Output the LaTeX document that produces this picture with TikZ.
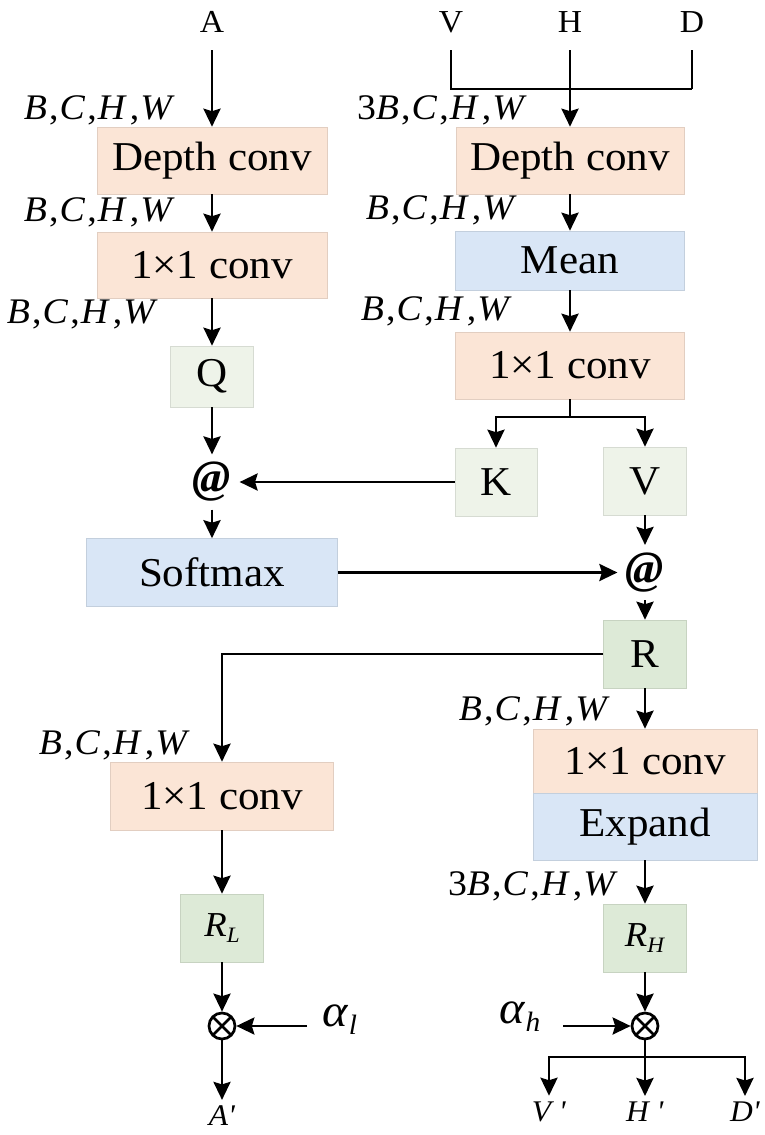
\documentclass[tikz,border=0pt]{standalone}
\usepackage{fontspec}
\setmainfont{Liberation Serif}
\usepackage{graphicx}
\usetikzlibrary{arrows.meta}
\definecolor{org}{HTML}{FBE5D6}
\definecolor{blu}{HTML}{D9E6F6}
\definecolor{grl}{HTML}{EEF3E9}
\definecolor{grd}{HTML}{DDEAD7}
\newcommand\hx[1]{\scalebox{1.05}[1]{#1}}
\newcommand\bchw{\hx{\textit{B}\kern2pt,\kern1pt\textit{C}\kern2pt,\kern1pt\textit{H}\kern3pt,\kern1pt\textit{W}}}
\newcommand\tbchw{\hx{3\textit{B}\kern2pt,\kern1pt\textit{C}\kern2pt,\kern1pt\textit{H}\kern3pt,\kern1pt\textit{W}}}
\begin{document}
\begin{tikzpicture}[x=1pt,y=-1pt,
  box/.style={draw=#1!90!black, line width=0.6pt, fill=#1, inner sep=0pt, font=\fontsize{41}{44}\selectfont},
  ln/.style={line width=2.7pt},
  arr/.style={ln, -{Stealth[length=18pt,width=17pt,inset=2.5pt]}},
  lbl/.style={inner sep=0pt, font=\fontsize{36}{38}\selectfont, anchor=east},
  toplbl/.style={inner sep=0pt, font=\fontsize{32}{34}\selectfont},
  outlbl/.style={inner sep=0pt, font=\fontsize{30}{32}\selectfont},
  atn/.style={circle, inner sep=0pt, minimum size=34pt, font=\fontsize{46}{48}\selectfont\bfseries\itshape},
  otim/.style={circle, draw, line width=2.7pt, minimum size=26pt, inner sep=0pt,
    path picture={\draw[line width=2.7pt] (path picture bounding box.north west) -- (path picture bounding box.south east)
      (path picture bounding box.north east) -- (path picture bounding box.south west);}},
]
\useasboundingbox (0,0) rectangle (764,1135);

% top inputs
\node[toplbl] (A) at (212,22) {\hx{A}};
\node[toplbl] (V) at (451,22) {\hx{V}};
\node[toplbl] (H) at (570,22) {\hx{H}};
\node[toplbl] (D) at (692,22) {\hx{D}};
\coordinate (db) at (692,89);

% left column
\node[box=org, minimum width=230pt, minimum height=67pt] (dc1) at (212,160.5) {\hx{Depth conv}};
\node[box=org, minimum width=230pt, minimum height=66pt] (c1) at (212,265) {\hx{1×1 conv}};
\node[box=grl, minimum width=83pt, minimum height=61pt] (Q) at (212,376.5) {\hx{Q}};
\node[atn] (at1) at (212,482) {@};
\node[box=blu, minimum width=251pt, minimum height=68pt] (sm) at (212,572.5) {\hx{Softmax}};

% right column
\node[box=org, minimum width=228pt, minimum height=67pt] (dc2) at (570,160.5) {\hx{Depth conv}};
\node[box=blu, minimum width=229pt, minimum height=59pt] (mean) at (570,260.5) {\hx{Mean}};
\node[box=org, minimum width=229pt, minimum height=67pt] (c2) at (570,365.5) {\hx{1×1 conv}};
\coordinate (br) at (570,417);
\node[box=grl, minimum width=82pt, minimum height=68pt] (K) at (496,482) {\hx{K}};
\node[box=grl, minimum width=83pt, minimum height=68pt] (Vb) at (645,481) {\hx{V}};
\node[atn] (at2) at (645,572.5) {@};
\node[box=grd, minimum width=83pt, minimum height=68pt] (R) at (645,654) {\hx{R}};

% lower left
\node[box=org, minimum width=223pt, minimum height=68pt] (c3) at (222,796) {\hx{1×1 conv}};
\node[box=grd, minimum width=83pt, minimum height=68pt, font=\fontsize{35}{37}\selectfont] (RL) at (222,928)
  {\hx{\textit{R}\raisebox{-6pt}{\fontsize{22}{23}\selectfont\textit{L}}}};
\node[otim] (ox1) at (222,1026) {};
\node[outlbl] (Ap) at (222,1116) {\hx{\textit{A\textquotesingle}}};
\node[inner sep=0pt, font=\fontsize{46}{48}\selectfont] (al) at (340,1020)
  {\hx{\textit{α}\raisebox{-8pt}{\fontsize{28}{29}\selectfont\textit{l}}}};
\coordinate (alin) at (307,1026);

% lower right
\node[box=org, minimum width=224pt, minimum height=64pt] (c4) at (645,761) {\hx{1×1 conv}};
\node[box=blu, minimum width=224pt, minimum height=67pt] (ex) at (645,826.5) {\hx{Expand}};
\node[box=grd, minimum width=83pt, minimum height=68pt, font=\fontsize{35}{37}\selectfont] (RH) at (645,938)
  {\hx{\textit{R}\raisebox{-6pt}{\fontsize{22}{23}\selectfont\textit{H}}}};
\node[otim] (ox2) at (645,1026) {};
\node[inner sep=0pt, font=\fontsize{46}{48}\selectfont] (ah) at (520,1017)
  {\hx{\textit{α}\raisebox{-8pt}{\fontsize{28}{29}\selectfont\textit{h}}}};
\coordinate (ahin) at (563,1026);
\coordinate (bj) at (645,1057);
\node[outlbl] (Vp) at (549,1112) {\hx{\textit{V \textquotesingle}}};
\node[outlbl] (Hp) at (645,1112) {\hx{\textit{H \textquotesingle}}};
\node[outlbl] (Dp) at (745,1112) {\hx{\textit{D\textquotesingle}}};

% shape labels
\node[lbl] at (175,110) {\bchw};
\node[lbl] at (175,212) {\bchw};
\node[lbl] at (158,314) {\bchw};
\node[lbl] at (527,110) {\tbchw};
\node[lbl] at (517,210) {\bchw};
\node[lbl] at (512,311) {\bchw};
\node[lbl] at (190,745) {\bchw};
\node[lbl] at (610,711) {\bchw};
\node[lbl] at (618,886) {\tbchw};

% connectors
\draw[arr, shorten <=28pt] (A.center) -- (dc1);
\draw[ln, shorten <=28pt] (V.center) |- (db);
\draw[ln, shorten <=28pt] (D.center) -- (db);
\draw[arr, shorten <=28pt] (H.center) -- (dc2);
\draw[arr] (dc1) -- (c1);
\draw[arr] (c1) -- (Q);
\draw[arr] (Q) -- (at1);
\draw[arr] (at1) -- (sm);
\draw[arr] (dc2) -- (mean);
\draw[arr] (mean) -- (c2);
\draw[ln] (c2) -- (br);
\draw[arr] (br) -| (K);
\draw[arr] (br) -| (Vb);
\draw[arr] (K) -- (at1);
\draw[arr] (Vb) -- (at2);
\draw[arr] (sm) -- (at2);
\draw[arr] (at2) -- (R);
\draw[arr] (R) -| (c3);
\draw[arr] (R) -- (c4);
\draw[arr] (c3) -- (RL);
\draw[arr] (RL) -- (ox1);
\draw[arr] (alin) -- (ox1);
\draw[arr, shorten >=6pt] (ox1) -- (Ap);
\draw[arr] (ex) -- (RH);
\draw[arr] (RH) -- (ox2);
\draw[arr] (ahin) -- (ox2);
\draw[ln] (ox2) -- (bj);
\draw[arr, shorten >=6pt] (bj) -| (Vp);
\draw[arr, shorten >=6pt] (bj) -- (Hp);
\draw[arr, shorten >=6pt] (bj) -| (Dp);
\end{tikzpicture}
\end{document}
